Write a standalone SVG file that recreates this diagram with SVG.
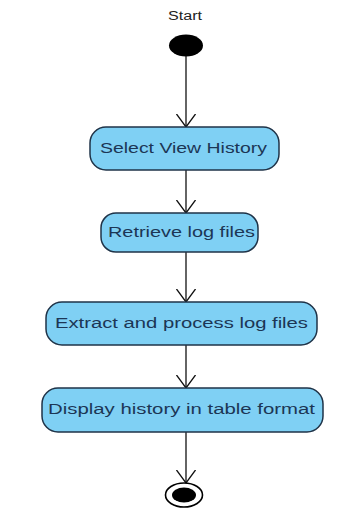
<svg xmlns="http://www.w3.org/2000/svg" width="339" height="509" viewBox="0 0 339 509">
<defs>
<style>
.act{fill:#7fd0f4;stroke:#1f3348;stroke-width:1.5}
.lbl{font-family:"Liberation Sans",Arial,sans-serif;font-size:14px;fill:#1c3655;text-anchor:middle}
.edge{stroke:#111;stroke-width:1.3;fill:none}
</style>
<marker id="open" viewBox="0 0 14 20" refX="13.5" refY="10" markerWidth="14" markerHeight="20" markerUnits="userSpaceOnUse" orient="auto">
<path d="M0.5,0.5 L13.5,10 L0.5,19.5" fill="none" stroke="#111" stroke-width="1.3"/>
</marker>
</defs>
<rect width="339" height="509" fill="#ffffff"/>
<g id="start">
<text x="185" y="20" class="lbl" style="fill:#222;font-size:12px" textLength="34" lengthAdjust="spacingAndGlyphs">Start</text>
<ellipse cx="186" cy="45.5" rx="17" ry="11" fill="#000"/>
</g>
<g id="connectors">
<line x1="186" y1="56" x2="186" y2="127" class="edge" marker-end="url(#open)"/>
<line x1="186" y1="170" x2="186" y2="213" class="edge" marker-end="url(#open)"/>
<line x1="186" y1="252" x2="186" y2="302" class="edge" marker-end="url(#open)"/>
<line x1="186" y1="345" x2="186" y2="388" class="edge" marker-end="url(#open)"/>
<line x1="186" y1="432" x2="186" y2="483" class="edge" marker-end="url(#open)"/>
</g>
<g id="select">
<rect x="90" y="127" width="189" height="43" rx="16" class="act"/>
<text x="183.5" y="153" class="lbl" textLength="167" lengthAdjust="spacingAndGlyphs">Select View History</text>
</g>
<g id="retrieve">
<rect x="101" y="213" width="157" height="39" rx="15" class="act"/>
<text x="181.5" y="237" class="lbl" textLength="147" lengthAdjust="spacingAndGlyphs">Retrieve log files</text>
</g>
<g id="extract">
<rect x="46" y="302" width="271" height="43" rx="16" class="act"/>
<text x="181.5" y="328" class="lbl" textLength="253" lengthAdjust="spacingAndGlyphs">Extract and process log files</text>
</g>
<g id="display">
<rect x="42" y="388" width="281" height="44" rx="16" class="act"/>
<text x="181.5" y="414" class="lbl" textLength="267" lengthAdjust="spacingAndGlyphs">Display history in table format</text>
</g>
<g id="end">
<ellipse cx="184" cy="495" rx="18.5" ry="12" fill="#fff" stroke="#000" stroke-width="1.6"/>
<ellipse cx="184" cy="495" rx="12" ry="7.5" fill="#000"/>
</g>
</svg>
